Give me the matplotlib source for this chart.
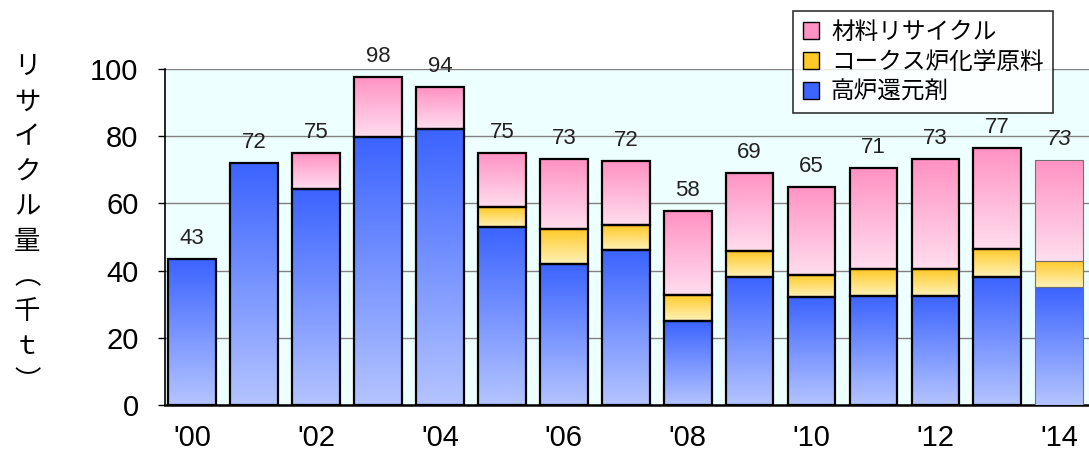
import numpy as np
import matplotlib
matplotlib.use("Agg")
import matplotlib.pyplot as plt
from matplotlib.patches import Patch
from matplotlib.colors import LinearSegmentedColormap

plt.rcParams['font.family'] = ['Liberation Sans', 'Noto Sans CJK JP', 'DejaVu Sans']

years = ["'00", "'01", "'02", "'03", "'04", "'05", "'06", "'07",
         "'08", "'09", "'10", "'11", "'12", "'13", "'14"]
blast = [43.4, 71.9, 64.2, 79.7, 82.0, 52.9, 42.1, 46.2, 24.9, 38.0, 32.0, 32.5, 32.5, 38.0, 35.0]
coke = [0, 0, 0, 0, 0, 5.9, 10.3, 7.3, 7.8, 7.7, 6.6, 7.9, 7.9, 8.4, 7.8]
material = [0, 0, 10.7, 17.8, 12.5, 16.1, 20.7, 19.0, 25.0, 23.3, 26.2, 30.2, 32.7, 30.2, 30.1]
totals = [43, 72, 75, 98, 94, 75, 73, 72, 58, 69, 65, 71, 73, 77, 73]
series_names = ['材料リサイクル', 'コークス炉化学原料', '高炉還元剤']

# gradient colours (top, bottom)
grad = {
    'blast': ('#3C64FF', '#B4C4FF'),
    'coke': ('#FFC928', '#FFF2B8'),
    'material': ('#FF92C3', '#FFDDEE'),
}

fig = plt.figure(figsize=(10.89, 4.53), dpi=100)
ax = fig.add_axes([0.1515, 0.106, 0.8485, 0.7417])
ax.set_facecolor('#EEFFFF')

x = np.arange(len(years))
width = 0.77
bottoms = np.zeros(len(years))
for key, vals in [('blast', blast), ('coke', coke), ('material', material)]:
    cmap = LinearSegmentedColormap.from_list(key, [grad[key][1], grad[key][0]])
    for i, v in enumerate(vals):
        if v <= 0:
            continue
        last = i == len(years) - 1
        b = bottoms[i]
        rect = ax.bar(x[i], v, width, bottom=b, facecolor='none',
                      edgecolor='#707070' if last else 'black',
                      linewidth=0.8 if last else 1.6, zorder=4)[0]
        img = ax.imshow(np.linspace(0, 1, 100).reshape(-1, 1), cmap=cmap,
                        origin='lower', aspect='auto', interpolation='bilinear',
                        extent=(x[i] - width / 2, x[i] + width / 2, b, b + v), zorder=3)
        img.set_clip_path(rect)
    bottoms += np.array(vals)

for i, t in enumerate(totals):
    ax.text(x[i], bottoms[i] + 3.0, str(t), ha='center', va='bottom', fontsize=16,
            color='#222222', style='italic' if i == len(years) - 1 else 'normal')

ax.set_xlim(-0.44, 14.48)
ax.set_ylim(0, 100)
ax.set_yticks(range(0, 101, 20))
ax.tick_params(axis='y', labelsize=21, length=5, width=1, pad=14)
ax.set_xticks(x[::2])
ax.set_xticklabels(years[::2])
ax.tick_params(axis='x', labelsize=21, length=0, pad=14)
ax.grid(axis='y', color='#808080', linewidth=1, zorder=1)
ax.set_axisbelow(True)
for s in ['top', 'right']:
    ax.spines[s].set_visible(False)
ax.spines['left'].set_linewidth(1.2)
ax.spines['bottom'].set_linewidth(1.8)

ylabel = 'リサイクル量︵千ｔ︶'
fig.text(0.025, 0.505, '\n'.join(ylabel), ha='center', va='center', fontsize=19,
         linespacing=1.38, family=['Noto Sans CJK JP', 'DejaVu Sans'])

handles = [Patch(facecolor=grad['material'][0], edgecolor='black'),
           Patch(facecolor=grad['coke'][0], edgecolor='black'),
           Patch(facecolor=grad['blast'][0], edgecolor='black')]
leg = fig.legend(handles, series_names, loc='upper right', bbox_to_anchor=(0.967, 0.975),
                 frameon=True, fancybox=False, edgecolor='black',
                 handlelength=0.7, handleheight=0.7, handletextpad=0.5,
                 labelspacing=0.3, borderpad=0.4, borderaxespad=0,
                 prop={'family': ['Noto Sans CJK JP'], 'size': 17})
leg.get_frame().set_linewidth(1.2)

fig.savefig('out.png', dpi=100)
